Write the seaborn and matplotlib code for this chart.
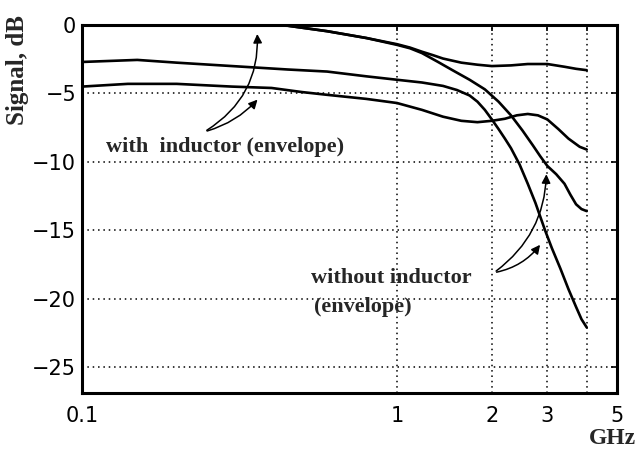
import numpy as np
import pandas as pd
import matplotlib
matplotlib.use("Agg")
import matplotlib.pyplot as plt
from matplotlib.ticker import FixedLocator, NullLocator, FixedFormatter
import seaborn as sns

# --- data (frequency in GHz, signal in dB) ---
freq_a = [0.1, 0.2, 0.3, 0.45, 0.6, 0.8, 1.0, 1.1, 1.2, 1.3, 1.4, 1.6, 1.8, 2.0, 2.3, 2.6, 3.0, 3.4, 3.7, 4.0]
sig_a = [0.0, 0.0, 0.0, -0.05, -0.45, -0.95, -1.4, -1.65, -1.95, -2.2, -2.45, -2.75, -2.9, -3.0, -2.95, -2.85, -2.85, -3.05, -3.2, -3.3]

freq_b = [0.1, 0.2, 0.3, 0.45, 0.6, 0.8, 1.0, 1.1, 1.2, 1.35, 1.5, 1.7, 1.9, 2.1, 2.3, 2.5, 2.7, 2.85, 3.0, 3.2, 3.4, 3.55, 3.7, 3.85, 4.0]
sig_b = [0.0, 0.0, 0.0, -0.05, -0.45, -0.95, -1.45, -1.7, -2.05, -2.7, -3.3, -4.0, -4.7, -5.6, -6.6, -7.7, -8.8, -9.6, -10.3, -10.9, -11.6, -12.4, -13.1, -13.45, -13.6]

freq_c = [0.1, 0.15, 0.2, 0.3, 0.45, 0.6, 0.8, 1.0, 1.2, 1.4, 1.55, 1.7, 1.8, 1.9, 2.0, 2.1, 2.2, 2.3, 2.45, 2.6, 2.75, 2.95, 3.1, 3.3, 3.5, 3.7, 3.85, 4.0]
sig_c = [-2.7, -2.55, -2.75, -3.0, -3.25, -3.4, -3.75, -4.0, -4.2, -4.45, -4.75, -5.15, -5.6, -6.2, -6.9, -7.6, -8.3, -9.0, -10.2, -11.6, -13.0, -15.0, -16.3, -17.8, -19.3, -20.6, -21.5, -22.1]

freq_d = [0.1, 0.14, 0.2, 0.3, 0.4, 0.5, 0.6, 0.8, 1.0, 1.2, 1.4, 1.6, 1.8, 2.0, 2.2, 2.4, 2.6, 2.8, 3.0, 3.25, 3.5, 3.8, 4.0]
sig_d = [-4.5, -4.3, -4.3, -4.5, -4.6, -4.9, -5.1, -5.4, -5.7, -6.2, -6.7, -7.0, -7.1, -7.0, -6.85, -6.6, -6.5, -6.6, -6.9, -7.6, -8.3, -8.9, -9.1]

x_ticks = [0.1, 1, 2, 3, 4, 5]
x_labels = ["0.1", "1", "2", "3", "", "5"]
y_ticks = [0, -5, -10, -15, -20, -25]
y_labels = ["0", "\u22125", "\u221210", "\u221215", "\u221220", "\u221225"]

frames = []
for name, f, s in [("a", freq_a, sig_a), ("b", freq_b, sig_b),
                   ("c", freq_c, sig_c), ("d", freq_d, sig_d)]:
    frames.append(pd.DataFrame({"freq": f, "signal": s, "curve": name}))
df = pd.concat(frames, ignore_index=True)

sns.set_style("white")
plt.rcParams["font.family"] = ["DejaVu Sans"]

fig = plt.figure(figsize=(6.39, 4.55), dpi=100)
ax = fig.add_axes([0.128, 0.136, 0.838, 0.809])

sns.lineplot(data=df, x="freq", y="signal", hue="curve",
             palette=["black"] * 4, estimator=None, legend=False,
             lw=1.9, ax=ax)

ax.set_xscale("log")
ax.set_xlim(0.1, 5)
ax.set_ylim(-26.9, 0)
ax.xaxis.set_major_locator(FixedLocator(x_ticks))
ax.xaxis.set_major_formatter(FixedFormatter(x_labels))
ax.xaxis.set_minor_locator(NullLocator())
ax.set_yticks(y_ticks)
ax.set_yticklabels(y_labels)

ax.grid(True, linestyle=(0, (1, 2.5)), color="black", lw=1.1)
for sp in ax.spines.values():
    sp.set_color("black")
    sp.set_linewidth(2.2)
ax.tick_params(which="both", direction="in", top=True, right=True,
               length=4, width=1.2, labelsize=15, colors="black")
ax.tick_params(axis="x", pad=9)
ax.tick_params(axis="y", pad=4)
ax.set_xlabel("")
ax.set_ylabel("")

serif = {"family": "Liberation Serif", "weight": "bold", "size": 16}
arrow = dict(arrowstyle="-|>", color="black", lw=1.1, mutation_scale=13)

# "with inductor" annotation
ax.text(0.285, -8.9, "with  inductor (envelope)", ha="center", va="center", fontdict=serif)
tail1 = (0.245, -7.8)
ax.annotate("", xy=(0.36, -0.45), xytext=tail1,
            arrowprops=dict(arrow, connectionstyle="arc3,rad=0.3"))
ax.annotate("", xy=(0.366, -5.3), xytext=tail1,
            arrowprops=dict(arrow, connectionstyle="arc3,rad=0.15"))

# "without inductor" annotation
ax.text(0.535, -18.5, "without inductor", ha="left", va="center", fontdict=serif)
ax.text(0.546, -20.6, "(envelope)", ha="left", va="center", fontdict=serif)
tail2 = (2.03, -18.1)
ax.annotate("", xy=(2.98, -10.7), xytext=tail2,
            arrowprops=dict(arrow, connectionstyle="arc3,rad=0.25"))
ax.annotate("", xy=(2.88, -15.9), xytext=tail2,
            arrowprops=dict(arrow, connectionstyle="arc3,rad=0.2"))

fig.text(0.028, 0.846, "Signal, dB", rotation=90, ha="center", va="center",
         family="Liberation Serif", weight="bold", size=18)
fig.text(0.959, 0.037, "GHz", ha="center", va="center",
         family="Liberation Serif", weight="bold", size=17)

fig.savefig("out.png", dpi=100)
